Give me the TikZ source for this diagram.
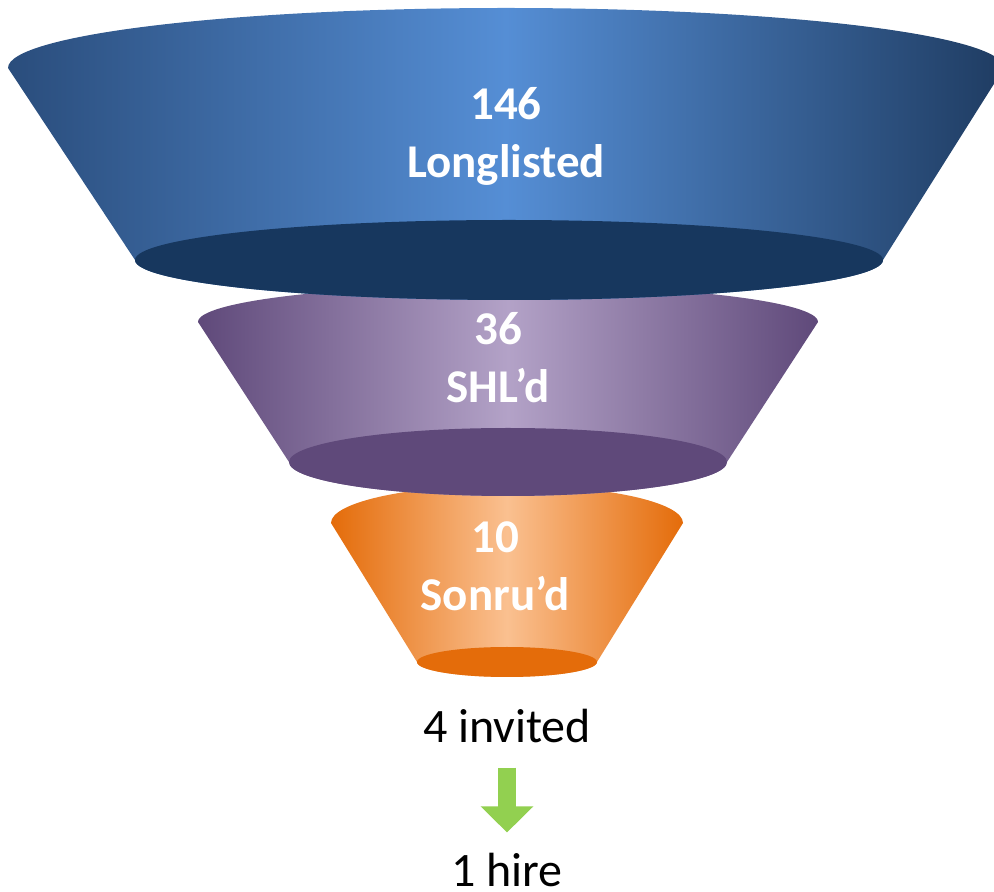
\documentclass[tikz,border=0pt]{standalone}
\usepackage{fontspec}
\setmainfont{Carlito}
\usetikzlibrary{arrows.meta}
\definecolor{bluedark}{HTML}{2A4D7C}
\definecolor{bluedeep}{HTML}{1F3C62}
\definecolor{bluelight}{HTML}{558ED5}
\definecolor{bluebase}{HTML}{17375E}
\definecolor{purpledark}{HTML}{5F497A}
\definecolor{purplelight}{HTML}{B3A2C7}
\definecolor{orangedark}{HTML}{E46C0A}
\definecolor{orangelight}{HTML}{FAC090}
\definecolor{arrowgreen}{HTML}{92D050}
\tikzstyle{stagetext}=[text=white,align=center,inner sep=0pt,font=\fontsize{47}{58}\selectfont\bfseries]
\tikzstyle{plaintext}=[text=black,inner sep=0pt,font=\fontsize{48}{58}\selectfont]
\begin{document}
\begin{tikzpicture}[x=1pt,y=1pt]
  \useasboundingbox (0,0) rectangle (994,892);
  \clip (0,0) rectangle (994,892);
  % orange stage
  \shade[left color=orangedark,right color=orangedark,middle color=orangelight]
    (331,369) arc[start angle=180,end angle=0,x radius=176,y radius=38]
    -- (597,230) arc[start angle=0,end angle=-180,x radius=90,y radius=15] -- cycle;
  \fill[orangedark] (507,230) ellipse[x radius=90,y radius=15];
  % purple stage
  \shade[left color=purpledark,right color=purpledark,middle color=purplelight]
    (198,570) arc[start angle=180,end angle=0,x radius=310,y radius=37]
    -- (727,430) arc[start angle=0,end angle=-180,x radius=219,y radius=34] -- cycle;
  \fill[purpledark] (508,430) ellipse[x radius=219,y radius=34];
  % blue stage
  \shade[left color=bluedark,right color=bluedeep,middle color=bluelight]
    (8,824) arc[start angle=180,end angle=0,x radius=498,y radius=60]
    -- (883,632) arc[start angle=0,end angle=-180,x radius=374,y radius=40] -- cycle;
  \fill[bluebase] (509,632) ellipse[x radius=374,y radius=40];
  % labels
  \node[stagetext] (longlisted) at (506,756) {146\\Longlisted};
  \node[stagetext] (shld) at (498,534) {36\\SHL’d};
  \node[stagetext] (sonrud) at (495,326) {10\\Sonru’d};
  \node[plaintext,anchor=base] (invited) at (507,149) {4 invited};
  \node[plaintext,anchor=base] (hire) at (507,5) {1 hire};
  \draw[arrowgreen,line width=18pt,shorten <=24pt,shorten >=21pt,
    -{Triangle[width=51pt,length=26pt]}] (invited.south) -- (hire.north);
\end{tikzpicture}
\end{document}
